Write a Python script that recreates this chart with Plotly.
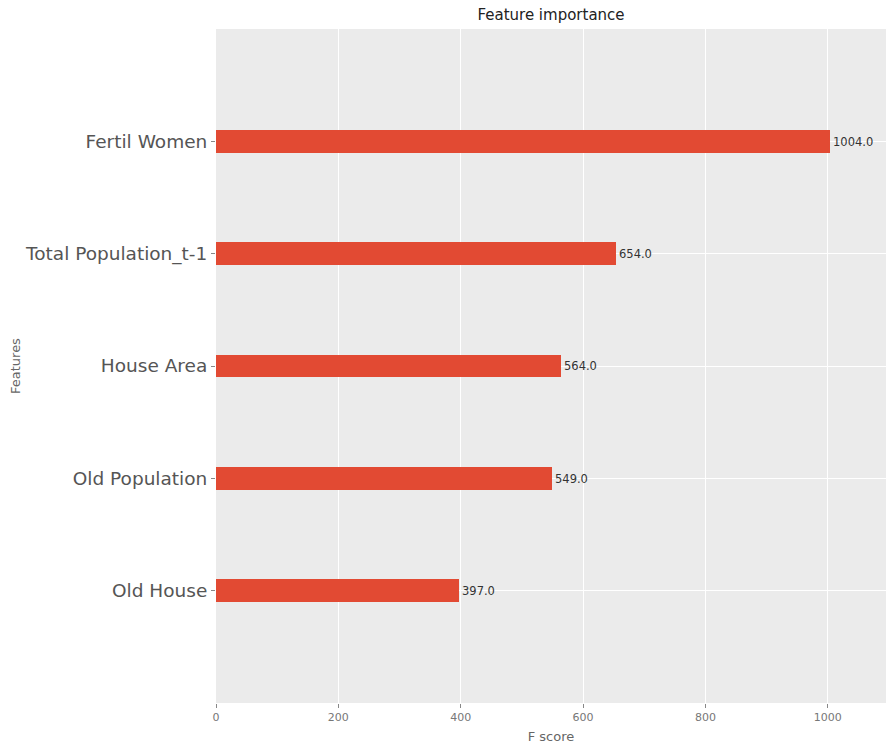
import plotly.graph_objects as go

features = ["Old House", "Old Population", "House Area", "Total Population_t-1", "Fertil Women"]
scores = [397.0, 549.0, 564.0, 654.0, 1004.0]
positions = list(range(len(features)))
labels = [f"{v:.1f}" for v in scores]

fig = go.Figure(go.Bar(
    x=scores, y=positions, orientation="h", width=0.2,
    marker=dict(color="#E24A33", line=dict(width=0)),
    text=labels, textposition="outside", cliponaxis=False,
    textfont=dict(size=11.5, color="#333333", family="DejaVu Sans"),
))

fig.update_layout(
    width=886, height=747,
    margin=dict(l=216, r=0, t=29, b=44),
    paper_bgcolor="white", plot_bgcolor="#EBEBEB",
    font=dict(family="DejaVu Sans", color="#555555"),
    title=dict(text="Feature importance", x=0.5, xref="paper", y=0.987, yref="container",
               xanchor="center", font=dict(size=15, color="#222222")),
    showlegend=False,
    bargap=0,
    annotations=[dict(text="Features", xref="paper", yref="paper", x=-0.3, y=0.5,
                      xanchor="center", yanchor="middle", textangle=-90, showarrow=False,
                      font=dict(size=13, color="#666666"))],
)
fig.update_xaxes(range=[0, 1095], tickvals=[0, 200, 400, 600, 800, 1000],
                 showgrid=True, gridcolor="white", gridwidth=1, zeroline=False,
                 ticks="outside", ticklen=4, tickcolor="#888888", automargin=False,
                 tickfont=dict(size=11, color="#777777"),
                 title=dict(text="F score", font=dict(size=13, color="#666666"), standoff=8))
fig.update_yaxes(range=[-1, 5], tickvals=positions, ticktext=features,
                 showgrid=True, gridcolor="white", gridwidth=1, zeroline=False,
                 ticks="outside", ticklen=4, tickcolor="#888888", automargin=False,
                 tickfont=dict(size=18.5, color="#555555"))

fig.write_html("out.html")
